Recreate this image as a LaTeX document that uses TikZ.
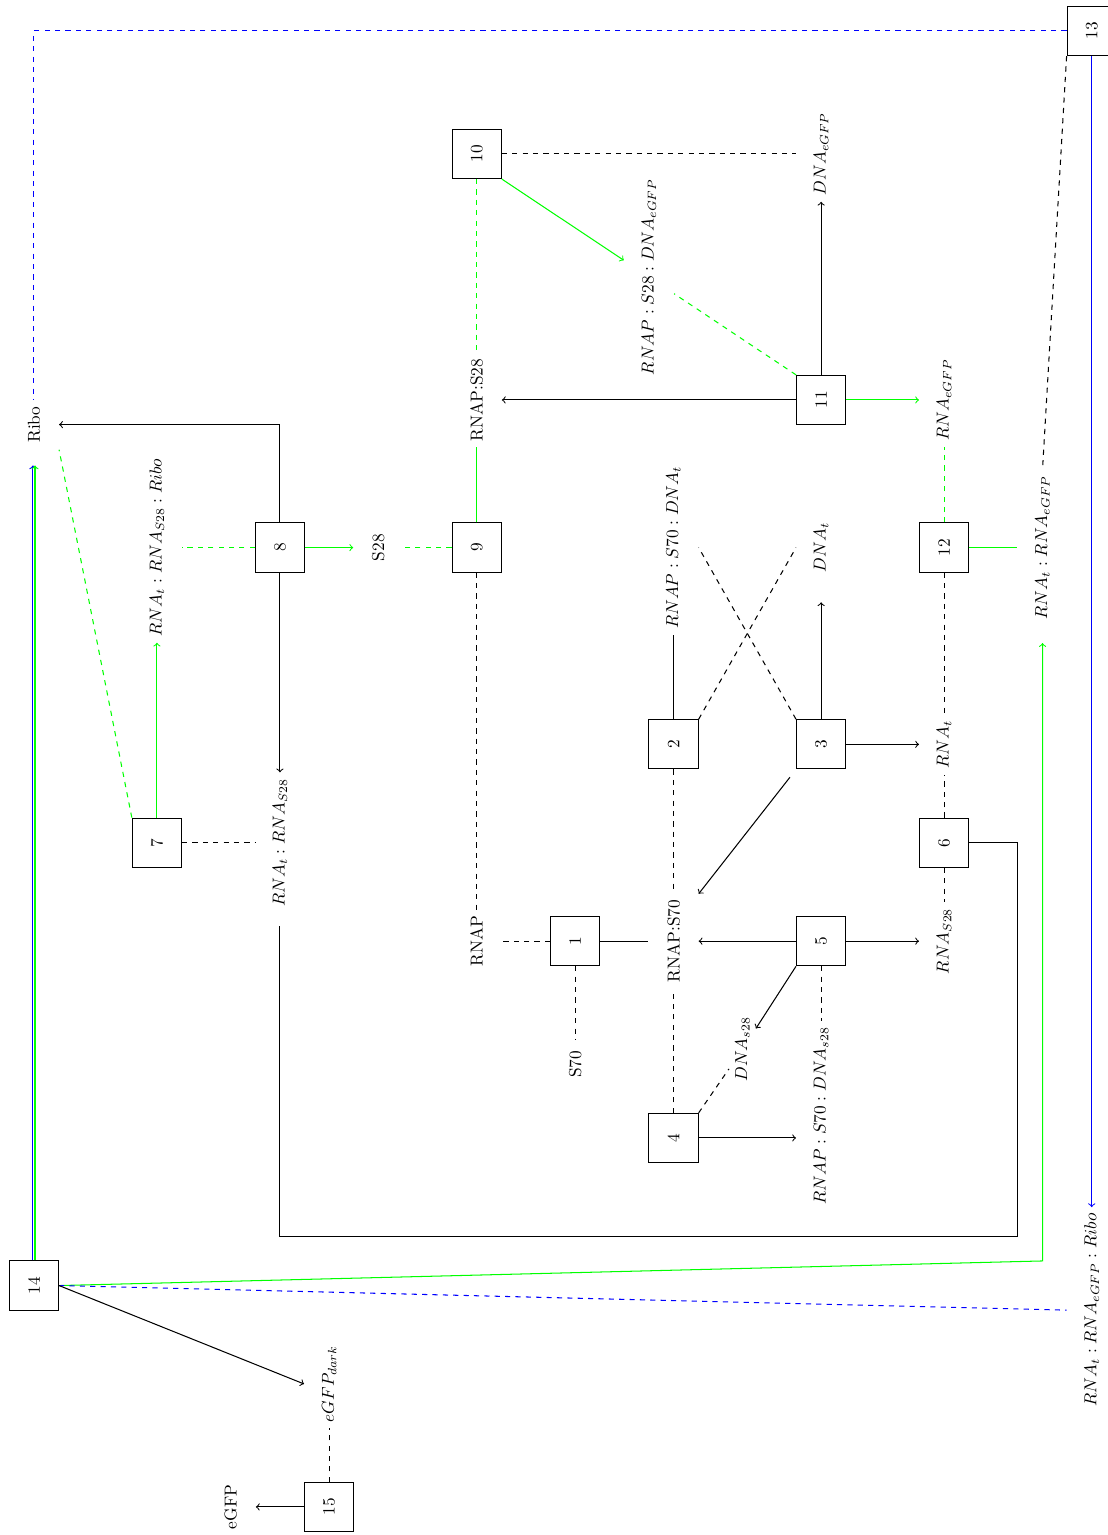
\documentclass[tikz,border=0pt]{standalone}
\usepackage{amsmath}
\usepackage{xcolor}
\usepackage{tikz}

\begin{document}
\begin{tikzpicture}[rotate=90, transform shape, semithick,
    reac/.style={draw, minimum size=1cm},
    spec/.style={minimum size=1cm}]
    \useasboundingbox (-0.07,0.69) rectangle (31.13,-21.83);
    % Reactions
    \foreach \n/\x/\y in {1/12/-11, 2/16/-13, 3/16/-16, 4/8/-13, 5/12/-16,
      6/14/-18.5, 7/14/-2.5, 8/20/-5, 9/20/-9, 10/28/-9, 11/23/-16,
      12/20/-18.5, 13/30.5/-21.5, 14/5/0, 15/0.5/-6} {
      \node[reac] (r\n) at (\x,\y) {\n};
    }
    % Especes
    \node[spec] (ribo) at (22.5,0) {Ribo};
    \node[spec] (rrr) at (20,-2.5) {$RNA_t:RNA_{S28}:Ribo$};
    \node[spec] (rrs) at (14,-5) {$RNA_t:RNA_{S28}$};
    \node[spec] (s28) at (20,-7) {S28};
    \node[spec] (rnaps28) at (23,-9) {RNAP:S28};
    \node[spec] (rnap) at (12,-9) {RNAP};
    \node[spec] (s70) at (9.5,-11) {S70};
    \node[spec] (rnaps70) at (12,-13) {RNAP:S70};
    \node[spec] (cplxt) at (20,-13) {$RNAP:S70:DNA_t$};
    \node[spec] (dnat) at (20,-16) {$DNA_t$};
    \node[spec] (cplxe) at (25.5,-12.5) {$RNAP:S28:DNA_{eGFP}$};
    \node[spec] (dnae) at (28,-16) {$DNA_{eGFP}$};
    \node[spec] (rnae) at (23,-18.5) {$RNA_{eGFP}$};
    \node[spec] (rre) at (20,-20.5) {$RNA_t:RNA_{eGFP}$};
    \node[spec] (rnat) at (16,-18.5) {$RNA_t$};
    \node[spec] (rnas28) at (12,-18.5) {$RNA_{S28}$};
    \node[spec, minimum size=0pt] (dnas28) at (9.8,-14.4) {$DNA_{s28}$};
    \node[spec] (cplxs) at (8.45,-16) {$RNAP:S70:DNA_{s28}$};
    \node[spec] (rrer) at (4.5,-21.5) {$RNA_t:RNA_{eGFP}:Ribo$};
    \node[spec] (gfpd) at (3,-6) {$eGFP_{dark}$};
    \node[spec] (gfp) at (0.5,-4) {eGFP};
    % 1 a 6
    \draw[dashed] (r1.north) -- (rnap.south);
    \draw (r1.south) -- (rnaps70.north);
    \draw[dashed] (r1.west) -- (s70.east);
    \draw (r2.east) -- (cplxt.west);
    \draw[dashed] (r2.west) -- (rnaps70.east);
    \draw[dashed] (r2.south east) -- (dnat.north);
    \draw[dashed] (r3.north east) -- (cplxt.south);
    \draw[->, shorten >=0.48cm] (r3.east) -- (dnat.west);
    \draw[->] (r3.south) -- (rnat.north);
    \draw[->, shorten <=0.2cm] (r3.north west) -- (rnaps70.south east);
    \draw[dashed] (r4.east) -- (rnaps70.west);
    \draw[dashed] (r4.south east) -- (dnas28);
    \draw[->] (r4.south) -- (r4.south |- cplxs.north);
    \draw[->] (r5.north) -- (rnaps70.south);
    \draw[->] (r5.south) -- (rnas28.north);
    \draw[->] (r5.north west) -- (dnas28);
    \draw[dashed] (r5.west) -- (cplxs.east);
    \draw[dashed] (r6.east) -- (rnat.west);
    \draw[dashed] (r6.west) -- (rnas28.east);
    \draw[shorten >=0.25cm] (r6.south) -- (14,-20) -- (6,-20) -- (6,-5) -- (rrs.west);
    % 7 a 12
    \draw[green, dashed] (r7.north east) -- (ribo.south west);
    \draw[green, ->] (r7.east) -- (rrr.west);
    \draw[dashed] (r7.south) -- (rrs.north);
    \draw[green, dashed] (r8.north) -- (rrr.south);
    \draw[green, ->] (r8.south) -- (s28.north);
    \draw[->] (r8.west) -- (rrs.east);
    \draw[->] (r8.east) -| (ribo.south);
    \draw[green, dashed] (r9.north) -- (s28.south);
    \draw[green] (r9.east) -- (rnaps28.west);
    \draw[dashed] (r9.west) -- (rnap.east);
    \draw[dashed] (r10.south) -- (dnae.north);
    \draw[green, dashed] (r10.west) -- (rnaps28.east);
    \draw[green, ->] (r10.south west) -- (cplxe);
    \draw[green, dashed] (r11.north east) -- (cplxe);
    \draw[->] (r11.east) -- (dnae.west);
    \draw[->] (r11.north) -- (rnaps28.south);
    \draw[green, ->] (r11.south) -- (rnae.north);
    \draw[green, dashed] (r12.east) -- (rnae.west);
    \draw[green] (r12.south) -- (rre.north);
    \draw[dashed] (r12.west) -- (rnat.east);
    % 13 a 15
    \draw[blue, dashed] (r13.north) |- (ribo.east);
    \draw[dashed] (r13.north west) -- (rre.east);
    \draw[blue, ->] (r13.west) -- (rrer.east);
    \draw[blue, ->, shorten >=0.32cm, transform canvas={xshift=-0.6pt}] (r14.east) -- (ribo.west);
    \draw[green, ->, shorten >=0.32cm, transform canvas={xshift=0.6pt}] (r14.east) -- (ribo.west);
    \draw[green, ->, shorten >=0.35cm] (r14.south) -- (5.5,-20.5) -- (rre.west);
    \draw[blue, dashed] (r14.south) -- (rrer.north);
    \draw[->] (r14.south) -- (gfpd.north);
    \draw[dashed] (r15.east) -- (gfpd.west);
    \draw[->] (r15.north) -- (gfp.south);
  \end{tikzpicture}
\end{document}
